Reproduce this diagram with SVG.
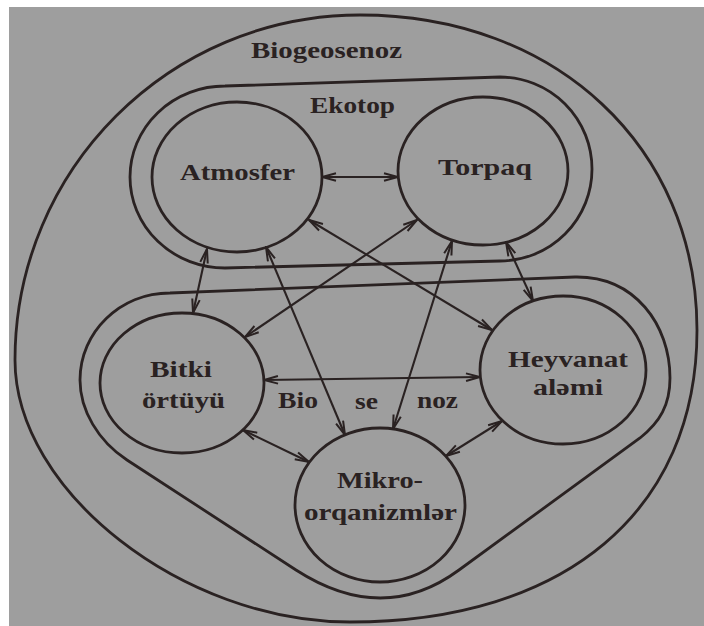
<svg xmlns="http://www.w3.org/2000/svg" width="704" height="626" viewBox="0 0 704 626">
  <style>
    .paper { fill: #9e9e9e; }
    .ring { fill: none; stroke: #2a2222; stroke-width: 2.8; }
    .node ellipse { fill: none; stroke: #2a2222; stroke-width: 2.8; }
    .label { font-family: "Liberation Serif", "Times New Roman", serif; font-weight: bold; font-size: 23px; fill: #2a2222; }
    .edge { fill: none; stroke: #2a2222; stroke-width: 2.1; marker-start: url(#head); marker-end: url(#head); }
  </style>
  <defs>
    <marker id="head" viewBox="0 0 16 10" refX="15" refY="5" markerWidth="16" markerHeight="10" markerUnits="userSpaceOnUse" orient="auto-start-reverse">
      <path d="M1,1.2 L15,5 L1,8.8" fill="none" stroke="#2a2222" stroke-width="2"/>
    </marker>
  </defs>

  <!-- sheet -->
  <rect width="704" height="626" fill="#ffffff"/>
  <rect class="paper" x="9" y="7" width="695" height="619"/>

  <!-- Biogeosenoz: outer boundary -->
  <g id="biogeosenoz">
    <path class="ring" d="M360,15 C555.5,15 697,147 697,330 C697,511 565,622 350,622 C182.5,622 15,491 15,360 C15,169.5 169.5,15 360,15 Z"/>
    <text class="label" x="251" y="58" textLength="151" lengthAdjust="spacingAndGlyphs">Biogeosenoz</text>
  </g>

  <!-- Ekotop: abiotic part -->
  <g id="ekotop">
    <path class="ring" d="M225,86 L500,77 A92,92 0 0 1 500,261 L225,268 A95,91 0 0 1 225,86 Z"/>
    <text class="label" x="310" y="113" textLength="85" lengthAdjust="spacingAndGlyphs">Ekotop</text>
  </g>

  <!-- Biosenoz: biotic part -->
  <g id="biosenoz">
    <path class="ring" d="M170,293 L575,277 C635,276 670,325 670,378 C670,405 660,422 640,438 L459,570 Q383,626 296,570 L127,460 C98,441 80,410 80,380 C80,332 120,293 170,293 Z"/>
    <text class="label" x="278" y="408" textLength="40" lengthAdjust="spacingAndGlyphs">Bio</text>
    <text class="label" x="355" y="409" textLength="23" lengthAdjust="spacingAndGlyphs">se</text>
    <text class="label" x="417" y="408" textLength="41" lengthAdjust="spacingAndGlyphs">noz</text>
  </g>

  <!-- components -->
  <g id="atmosfer" class="node">
    <ellipse cx="237" cy="177" rx="85" ry="75"/>
    <text class="label" x="180" y="180" textLength="115" lengthAdjust="spacingAndGlyphs">Atmosfer</text>
  </g>
  <g id="torpaq" class="node">
    <ellipse cx="483" cy="171" rx="85" ry="74"/>
    <text class="label" x="438" y="175" textLength="94" lengthAdjust="spacingAndGlyphs">Torpaq</text>
  </g>
  <g id="bitki" class="node">
    <ellipse cx="182" cy="383" rx="82" ry="70"/>
    <text class="label" x="150" y="377" textLength="62" lengthAdjust="spacingAndGlyphs">Bitki</text>
    <text class="label" x="142" y="408" textLength="83" lengthAdjust="spacingAndGlyphs">örtüyü</text>
  </g>
  <g id="heyvanat" class="node">
    <ellipse cx="563" cy="370" rx="83" ry="74"/>
    <text class="label" x="508" y="367" textLength="120" lengthAdjust="spacingAndGlyphs">Heyvanat</text>
    <text class="label" x="533" y="395" textLength="70" lengthAdjust="spacingAndGlyphs">aləmi</text>
  </g>
  <g id="mikro" class="node">
    <ellipse cx="380" cy="505" rx="85" ry="77"/>
    <text class="label" x="337" y="488" textLength="86" lengthAdjust="spacingAndGlyphs">Mikro-</text>
    <text class="label" x="304" y="520" textLength="153" lengthAdjust="spacingAndGlyphs">orqanizmlər</text>
  </g>

  <!-- two-way links between components -->
  <g id="links">
    <line class="edge" x1="322" y1="177" x2="398" y2="177"/>
    <line class="edge" x1="207" y1="249" x2="193" y2="313"/>
    <line class="edge" x1="266" y1="247" x2="345" y2="435"/>
    <line class="edge" x1="309" y1="220" x2="492" y2="330"/>
    <line class="edge" x1="417" y1="220" x2="245" y2="337"/>
    <line class="edge" x1="452" y1="241" x2="393" y2="429"/>
    <line class="edge" x1="506" y1="242" x2="533" y2="301"/>
    <line class="edge" x1="264" y1="380" x2="480" y2="377"/>
    <line class="edge" x1="243" y1="430" x2="309" y2="462"/>
    <line class="edge" x1="502" y1="421" x2="446" y2="456"/>
  </g>
</svg>
